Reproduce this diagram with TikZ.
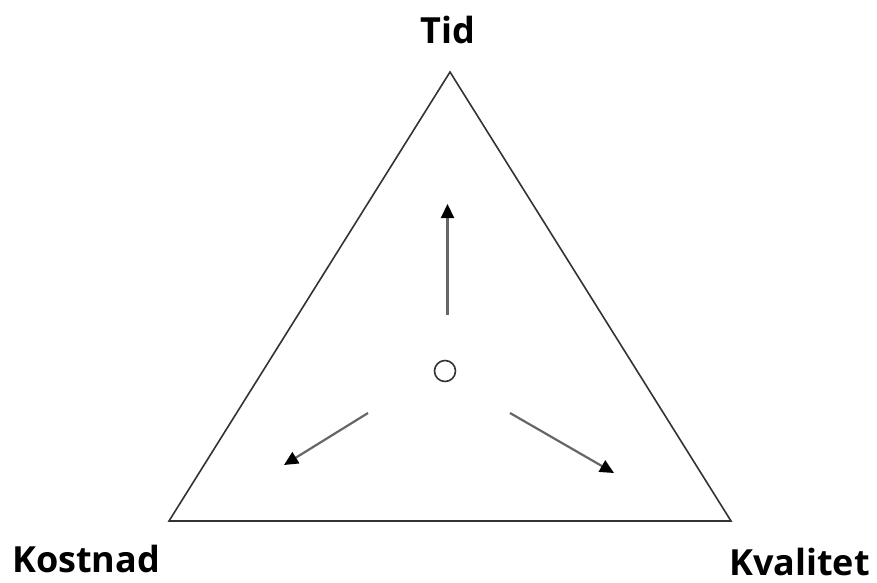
\documentclass[tikz,border=0pt]{standalone}
\usepackage{fontspec}
\setmainfont{Open Sans}
\usepackage{tikz}
\usetikzlibrary{arrows.meta}

\begin{document}
\begin{tikzpicture}[
    x=1pt, y=-1pt,
    corner/.style={font=\bfseries\fontsize{36}{42}\selectfont, inner sep=0pt},
    side/.style={draw=black!80, line width=1.6pt, line join=miter},
    push/.style={draw=black!60, line width=2.2pt, -{Triangle[length=14pt,width=13pt,color=black]}}
]
\useasboundingbox (0,0) rectangle (877,582);
\coordinate (Top) at (450,72);
\coordinate (Left) at (169,521);
\coordinate (Right) at (731,521);
\draw[side] (Top) -- (Left) -- (Right) -- cycle;

\node[corner, anchor=base] (Tid) at (448,43) {Tid};
\node[corner, anchor=base west] (Kostnad) at (12,572) {Kostnad};
\node[corner, anchor=base east] (Kvalitet) at (870,575) {Kvalitet};

\node[draw=black!80, line width=1.6pt, circle, minimum size=21pt, inner sep=0pt] (Mid) at (445,371) {};

\coordinate (UpFrom) at (447.5,315);
\coordinate (UpTo) at (447.5,204);
\coordinate (LeftFrom) at (368,413);
\coordinate (LeftTo) at (284,465);
\coordinate (RightFrom) at (510,413);
\coordinate (RightTo) at (614,473);
\draw[push] (UpFrom) -- (UpTo);
\draw[push] (LeftFrom) -- (LeftTo);
\draw[push] (RightFrom) -- (RightTo);
\end{tikzpicture}
\end{document}
